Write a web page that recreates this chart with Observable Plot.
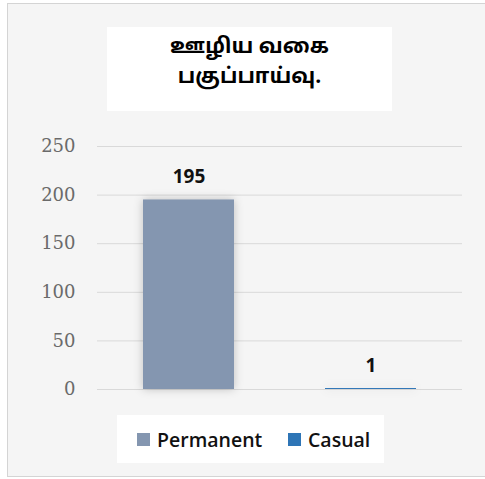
<!DOCTYPE html>
<html><head><meta charset="utf-8">
<script src="https://cdn.jsdelivr.net/npm/d3@7"></script>
<script src="https://cdn.jsdelivr.net/npm/@observablehq/plot@0.6"></script>
<style>
body{margin:0;width:485px;height:479px;position:relative;background:#fff;overflow:hidden;}
#frame{position:absolute;left:7px;top:3px;width:490px;height:474px;border:1px solid #d4d4d4;background:#f5f5f5;box-sizing:border-box;}
#title{position:absolute;left:107px;top:27px;width:285px;height:84px;background:#fff;text-align:center;font:bold 21px "Noto Sans Tamil","Noto Sans","Lato",sans-serif;color:#000;}
#title div{position:absolute;left:0;width:100%;line-height:30px;}
#chart{position:absolute;left:0;top:0;}
#chart g[aria-label="bar"] rect{filter:drop-shadow(0 0 5px rgba(0,0,0,0.22));}
#legend{position:absolute;left:117px;top:415px;width:267px;height:48px;background:#fff;font:600 19.5px "Open Sans",sans-serif;color:#111;}
#legend .item{position:absolute;top:0;height:48px;display:flex;align-items:center;white-space:nowrap;}
#legend .sw{display:inline-block;width:13px;height:13px;margin-right:7px;}
</style>
</head><body>
<div id="frame"></div>
<div id="title"></div>
<div id="chart"></div>
<div id="legend"></div>
<script>
const titleLines = ["ஊழிய வகை", "பகுப்பாய்வு."];
const categories = ["Permanent", "Casual"];
const values = [195, 1];
const colors = ["#8496b0", "#2e75b6"];
const yTicks = [0, 50, 100, 150, 200, 250];

const data = categories.map((c, i) => ({category: c, value: values[i]}));

const t = document.getElementById("title");
titleLines.forEach((s, i) => {
  const d = document.createElement("div");
  d.textContent = s;
  d.style.top = (i === 0 ? 6 : 36) + "px";
  t.appendChild(d);
});

const chart = Plot.plot({
  width: 485,
  height: 400,
  marginTop: 146,
  marginBottom: 11,
  marginLeft: 97,
  marginRight: 23,
  style: {background: "transparent", overflow: "visible"},
  x: {domain: categories, paddingInner: 0.5, paddingOuter: 0.25, axis: null},
  y: {domain: [0, 250], axis: null, label: null},
  color: {domain: categories, range: colors},
  marks: [
    Plot.gridY(yTicks, {stroke: "#d9d9d9", strokeOpacity: 1, strokeWidth: 1}),
    Plot.barY(data, {x: "category", y: "value", fill: "category"}),
    Plot.axisY(yTicks, {tickSize: 0, tickPadding: 22, label: null, fontSize: 18, fontFamily: "DejaVu Serif", fill: "#6a6a6a"}),
    Plot.text(data, {x: "category", y: "value", text: d => String(d.value), lineAnchor: "bottom", dy: -17,
      fontSize: 19, fontWeight: "bold", fontFamily: "Open Sans", fill: "#111"})
  ]
});
document.getElementById("chart").appendChild(chart);

const lg = document.getElementById("legend");
const lefts = [20, 171];
categories.forEach((c, i) => {
  const it = document.createElement("div");
  it.className = "item";
  it.style.left = lefts[i] + "px";
  const sw = document.createElement("span");
  sw.className = "sw";
  sw.style.background = colors[i];
  it.appendChild(sw);
  it.appendChild(document.createTextNode(c));
  lg.appendChild(it);
});
</script>
</body></html>
